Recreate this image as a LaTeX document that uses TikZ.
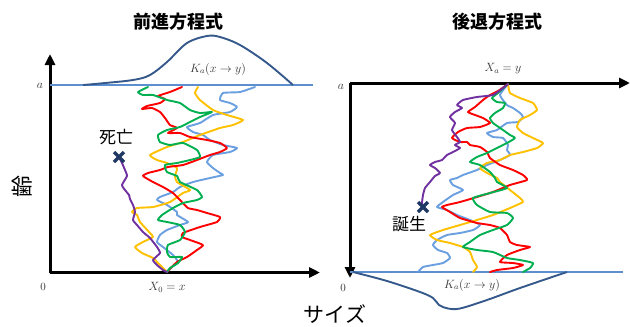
\documentclass[tikz,border=0pt]{standalone}
\usepackage{fontspec}
\setmainfont{Liberation Serif}
\newfontfamily\jp{Noto Sans CJK JP}
\usetikzlibrary{arrows.meta,calc}
\definecolor{pred}{HTML}{FF0000}
\definecolor{pgreen}{HTML}{00B050}
\definecolor{pyellow}{HTML}{FFC000}
\definecolor{pblue}{HTML}{6A9FE0}
\definecolor{ppurple}{HTML}{7030A0}
\definecolor{baseblue}{HTML}{5B8FD0}
\definecolor{kblue}{HTML}{36598C}
\definecolor{navy}{HTML}{1F3864}
\tikzset{
  axis/.style={line width=3pt,-{Triangle[length=11pt,width=10pt]}},
  baseline/.style={baseblue,line width=1.5pt},
  kcurve/.style={kblue,line width=1.9pt},
  walk/.style={line width=1.9pt,line join=round,line cap=round},
  title/.style={font=\jp\fontsize{18}{18}\selectfont\bfseries},
  jlabel/.style={font=\jp\fontsize{17}{17}\selectfont},
  mlabel/.style={font=\fontsize{12}{12}\selectfont, text=black!80},
  xmark/.style={navy,line width=3.2pt}
}
\begin{document}
\begin{tikzpicture}[x=1pt,y=-1pt]
\useasboundingbox (0,0) rectangle (630,327);
% ---------- titles ----------
\node[title] (t1) at (178,22) {前進方程式};
\node[title] (t2) at (497,22) {後退方程式};
% ---------- left plot ----------
\coordinate (lo) at (50,272.5);
\coordinate (ltop) at (50,54);
\coordinate (lright) at (320,272.5);
\draw[axis] (lo) -- (ltop);
\draw[axis] (lo) -- (lright);
\coordinate (lb1) at (50,85);
\coordinate (lb2) at (313,85);
\draw[baseline] (lb1) -- (lb2);
\draw[kcurve] plot[smooth,tension=0.55] coordinates {(83,85) (100,83.5) (133,80) (150,75) (167,62) (187,43) (207,36) (220,37) (240,45) (267,63) (293,85)};
\node[mlabel] (kl) at (218,69) {$K_a(x \to y)$};
\node[mlabel] (al) at (40,86) {$a$};
\node[mlabel,font=\fontsize{11}{11}\selectfont] (zl) at (43,287) {$0$};
\node[mlabel] (x0) at (167,287) {$X_0 = x$};
\node[font=\jp\fontsize{22}{22}\selectfont,rotate=90] (age) at (22,186) {齢};
% walks left
\draw[walk,pblue] plot[smooth,tension=0.3] coordinates {(167,272) (172,267) (178,262) (173,255) (163,247) (157,242) (160,235) (167,230) (180,225) (188,222) (177,215) (177,212) (167,205) (157,200) (160,197) (173,192) (180,187) (193,182) (210,178) (223,175) (220,173) (213,168) (207,162) (213,155) (230,152) (237,148) (223,145) (210,140) (203,135) (193,132) (187,127) (200,123) (213,115) (230,112) (237,107) (230,103) (220,100) (223,93) (240,92) (255,87)};
\draw[walk,pyellow] plot[smooth,tension=0.3] coordinates {(167,272) (165,270) (158,263) (153,258) (142,253) (135,247) (143,242) (153,237) (150,233) (140,222) (137,215) (132,212) (137,208) (153,207) (170,202) (183,193) (190,190) (177,182) (175,176) (177,168) (167,163) (157,160) (150,155) (167,147) (183,142) (200,135) (220,128) (233,125) (243,120) (227,115) (213,110) (200,100) (195,93) (198,87)};
\draw[walk,pred] plot[smooth,tension=0.3] coordinates {(167,272) (177,262) (187,257) (197,250) (203,245) (190,240) (182,237) (183,233) (200,227) (217,222) (220,217) (207,213) (197,210) (188,208) (180,200) (173,193) (163,187) (153,182) (143,176) (148,173) (160,170) (168,167) (183,165) (197,160) (210,155) (220,152) (227,148) (220,143) (207,140) (190,137) (180,133) (168,133) (177,128) (170,125) (165,118) (160,112) (152,108) (142,109) (147,106) (160,103) (165,99) (158,96) (170,92) (182,87)};
\draw[walk,pgreen] plot[smooth,tension=0.3] coordinates {(167,272) (170,268) (178,263) (182,257) (170,257) (167,252) (168,245) (180,240) (185,232) (180,225) (167,222) (158,220) (162,215) (173,208) (183,203) (197,200) (202,197) (197,190) (180,182) (177,176) (167,172) (165,165) (177,163) (190,160) (200,157) (197,150) (183,143) (170,145) (160,142) (158,135) (167,130) (180,127) (190,122) (200,117) (212,112) (200,113) (190,110) (180,103) (167,100) (153,95) (143,95) (138,92) (148,87)};
\draw[walk,ppurple] plot[smooth,tension=0.3] coordinates {(167,272) (163,270) (157,265) (153,260) (160,253) (157,247) (150,238) (143,232) (137,225) (133,220) (135,212) (133,205) (130,199) (129,195) (125,190) (122,185) (127,176) (125,170) (122,163) (119,157)};
\coordinate (dx) at (119,157);
\draw[xmark] ($(dx)+(-5,-5)$) -- ($(dx)+(5,5)$) ($(dx)+(-5,5)$) -- ($(dx)+(5,-5)$);
\node[jlabel] (death) at (116,137) {死亡};
% ---------- right plot ----------
\coordinate (ro) at (350,83);
\coordinate (rbot) at (350,278);
\coordinate (rright) at (630,83);
\draw[axis] (ro) -- (rbot);
\draw[axis] (ro) -- (rright);
\coordinate (rb1) at (350,272);
\coordinate (rb2) at (623,272);
\draw[baseline] (rb1) -- (rb2);
\draw[kcurve] plot[smooth,tension=0.55] coordinates {(353,272) (387,281) (420,292) (433,298) (439,305) (448,308.5) (460,308.5) (487,300) (520,288) (567,272)};
\node[mlabel] (kr) at (472,285) {$K_a(x \to y)$};
\node[mlabel] (ar) at (341,87) {$a$};
\node[mlabel,font=\fontsize{11}{11}\selectfont] (zr) at (343,288) {$0$};
\node[mlabel] (xa) at (503,69) {$X_a = y$};
% walks right
\draw[walk,pblue] plot[smooth,tension=0.3] coordinates {(508,84) (500,95) (507,105) (513,108) (520,113) (523,117) (518,122) (507,123) (497,130) (487,133) (493,137) (503,138) (508,145) (507,150) (510,155) (500,160) (487,165) (477,170) (463,175) (457,178) (450,180) (453,185) (463,190) (453,195) (443,202) (437,207) (447,210) (457,215) (470,220) (480,225) (473,230) (460,233) (447,235) (437,240) (433,245) (438,250) (447,253) (450,258) (443,263) (433,265) (423,267) (418,272)};
\draw[walk,pyellow] plot[smooth,tension=0.3] coordinates {(508,84) (510,93) (520,98) (533,103) (537,110) (530,115) (520,120) (517,127) (523,133) (533,138) (543,143) (537,148) (523,152) (510,155) (500,160) (487,163) (480,168) (487,173) (497,178) (500,182) (510,190) (520,198) (523,202) (510,208) (493,215) (477,220) (460,225) (443,230) (430,235) (437,240) (450,243) (463,247) (470,252) (473,260) (477,267) (473,272)};
\draw[walk,pred] plot[smooth,tension=0.3] coordinates {(508,84) (498,91) (490,95) (483,100) (475,107) (468,112) (475,115) (483,118) (490,123) (480,127) (467,128) (458,132) (452,138) (460,142) (467,142) (470,145) (480,147) (487,152) (490,158) (500,165) (513,170) (523,175) (527,180) (510,185) (493,192) (477,197) (460,202) (447,205) (442,207) (450,212) (460,218) (477,223) (490,225) (500,228) (507,235) (510,242) (517,245) (530,247) (520,250) (507,255) (500,262) (513,263) (523,265) (513,268) (497,270) (490,272)};
\draw[walk,pgreen] plot[smooth,tension=0.3] coordinates {(508,84) (498,93) (492,98) (497,102) (505,103) (503,108) (495,113) (490,118) (493,123) (503,130) (510,135) (515,138) (507,143) (497,148) (487,153) (477,157) (470,162) (480,165) (490,172) (495,178) (497,182) (507,188) (490,193) (473,198) (477,205) (490,212) (507,213) (513,218) (507,225) (493,230) (480,235) (470,242) (463,247) (477,250) (493,252) (507,258) (520,260) (533,263) (530,268) (523,272)};
\draw[walk,ppurple] plot[smooth,tension=0.3] coordinates {(508,84) (503,88) (493,95) (477,97) (463,100) (457,105) (462,108) (455,112) (450,117) (455,123) (452,130) (457,137) (460,142) (455,145) (460,148) (453,152) (447,155) (442,160) (435,162) (430,165) (435,168) (440,173) (435,176) (430,182) (425,188) (423,195) (422,203) (423,207)};
\coordinate (bx) at (423,207);
\draw[xmark] ($(bx)+(-5,-5)$) -- ($(bx)+(5,5)$) ($(bx)+(-5,5)$) -- ($(bx)+(5,-5)$);
\node[jlabel] (birth) at (409,224) {誕生};
% ---------- bottom label ----------
\node[font=\jp\fontsize{21}{21}\selectfont] (size) at (335,314) {サイズ};
\end{tikzpicture}
\end{document}
